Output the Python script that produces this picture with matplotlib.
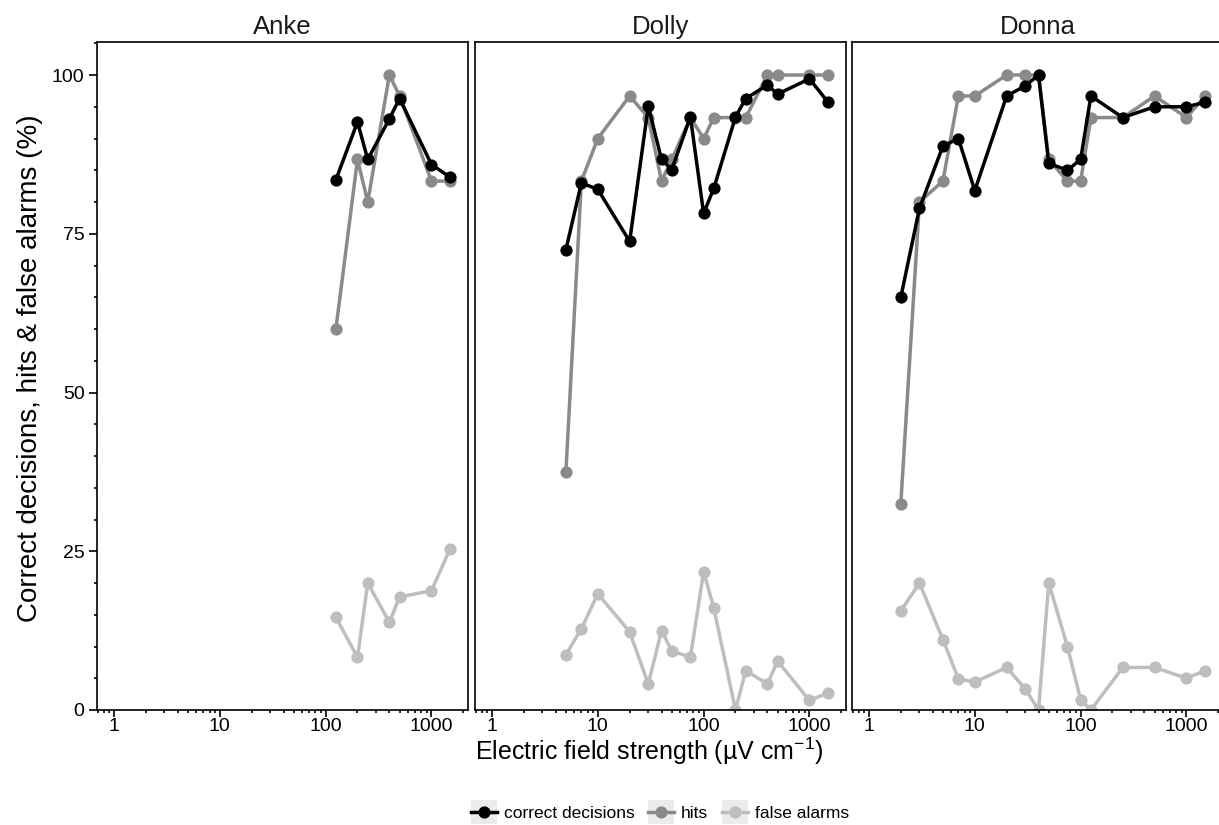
import matplotlib
matplotlib.use("Agg")
import matplotlib.pyplot as plt
from matplotlib import ticker
from matplotlib.legend_handler import HandlerLine2D
from matplotlib.patches import Rectangle
from matplotlib.lines import Line2D

plt.rcParams['font.family'] = ['Liberation Sans', 'DejaVu Sans']
plt.rcParams['mathtext.default'] = 'regular'

# ---------------- data ----------------
subjects = ["Anke", "Dolly", "Donna"]

anke_x = [125, 200, 250, 400, 500, 1000, 1500]
anke_correct = [83.5, 92.6, 86.7, 93.1, 96.3, 85.9, 83.9]
anke_hits = [60.0, 86.7, 80.0, 100.0, 96.7, 83.3, 83.3]
anke_fa = [14.6, 8.3, 20.0, 13.8, 17.8, 18.8, 25.4]

dolly_x = [5, 7, 10, 20, 30, 40, 50, 75, 100, 125, 200, 250, 400, 500, 1000, 1500]
dolly_correct = [72.5, 83.0, 82.0, 73.8, 95.1, 86.7, 85.1, 93.4, 78.2, 82.2, 93.4, 96.3, 98.4, 97.0, 99.4, 95.7]
dolly_hits = [37.5, 83.3, 90.0, 96.7, 93.3, 83.3, 86.7, 93.3, 90.0, 93.3, 93.3, 93.3, 100, 100, 100, 100]
dolly_fa = [8.7, 12.8, 18.3, 12.3, 4.1, 12.5, 9.3, 8.3, 21.8, 16.0, 0.0, 6.2, 4.1, 7.7, 1.5, 2.7]

donna_x = [2, 3, 5, 7, 10, 20, 30, 40, 50, 75, 100, 125, 250, 500, 1000, 1500]
donna_correct = [65.0, 79.0, 88.8, 90.0, 81.8, 96.7, 98.3, 100, 86.1, 85.0, 86.7, 96.7, 93.3, 95.0, 95.0, 95.7]
donna_hits = [32.5, 80.0, 83.3, 96.7, 96.7, 100, 100, 100, 86.7, 83.3, 83.3, 93.3, 93.3, 96.7, 93.3, 96.7]
donna_fa = [15.6, 20.0, 11.1, 4.9, 4.4, 6.7, 3.3, 0.0, 20.0, 10.0, 1.6, 0.0, 6.7, 6.7, 5.0, 6.2]

series_names = ["correct decisions", "hits", "false alarms"]
x_tick_values = [1, 10, 100, 1000]
x_tick_labels = ["1", "10", "100", "1000"]
y_tick_values = [0, 25, 50, 75, 100]

panels = [
    (anke_x, anke_correct, anke_hits, anke_fa),
    (dolly_x, dolly_correct, dolly_hits, dolly_fa),
    (donna_x, donna_correct, donna_hits, donna_fa),
]

# ---------------- style ----------------
colors = {"correct decisions": "#000000", "hits": "#8a8a8a", "false alarms": "#bebebe"}
LW = 2.5
MS = 8.8

W, H = 1219, 825
fig = plt.figure(figsize=(W / 100, H / 100), dpi=100)

panel_lefts = [97, 475, 852]
panel_w = 371
top_px, bot_px = 42, 710

for i, (name, (xs, cor, hit, fa)) in enumerate(zip(subjects, panels)):
    ax = fig.add_axes([panel_lefts[i] / W, 1 - bot_px / H, panel_w / W, (bot_px - top_px) / H])
    ax.set_xscale('log')
    for label, vals in (("false alarms", fa), ("hits", hit), ("correct decisions", cor)):
        ax.plot(xs, vals, color=colors[label], lw=LW, marker='o', ms=MS,
                markeredgewidth=0, solid_joinstyle='round')
    ax.set_xlim(10 ** -0.16, 10 ** 3.345)
    ax.set_ylim(0, 105.2)
    ax.xaxis.set_major_locator(ticker.FixedLocator(x_tick_values))
    ax.xaxis.set_major_formatter(ticker.FixedFormatter(x_tick_labels))
    ax.xaxis.set_minor_locator(ticker.LogLocator(base=10, subs=range(2, 10), numticks=20))
    ax.xaxis.set_minor_formatter(ticker.NullFormatter())
    ax.yaxis.set_major_locator(ticker.FixedLocator(y_tick_values))
    ax.yaxis.set_minor_locator(ticker.MultipleLocator(5))
    if i > 0:
        ax.tick_params(axis='y', which='both', left=False, labelleft=False)
    for sp in ax.spines.values():
        sp.set_linewidth(1.2)
        sp.set_color('black')
    ax.tick_params(which='major', width=1.2, labelsize=14, color='black', labelcolor='black')
    ax.tick_params(which='minor', length=2.5, width=1.2, color='black')
    ax.tick_params(axis='x', which='major', length=5, pad=0.5)
    ax.tick_params(axis='y', which='major', length=6, pad=3)
    ax.set_title(name, fontsize=18.5, pad=6, color='#1a1a1a')

fig.text(649 / W, 1 - 751 / H, "Electric field strength (µV cm$^{-1}$)",
         ha='center', va='center', fontsize=18)
fig.text(30 / W, 1 - 368 / H, "Correct decisions, hits & false alarms (%)",
         ha='center', va='center', rotation=90, fontsize=20)


class KeyHandler(HandlerLine2D):
    def create_artists(self, legend, orig_handle, xdescent, ydescent, width, height, fontsize, trans):
        rect = Rectangle((-xdescent, -ydescent - 3), width, height + 6, facecolor='#ebebeb',
                         edgecolor='none', transform=trans)
        arts = super().create_artists(legend, orig_handle, xdescent, ydescent, width, height, fontsize, trans)
        return [rect] + list(arts)


handles = [Line2D([], [], color=colors[n], lw=LW, marker='o', ms=MS, markeredgewidth=0) for n in series_names]
leg = fig.legend(handles, series_names, loc='center', bbox_to_anchor=(660 / W, 1 - 813 / H),
                 ncol=3, frameon=False, fontsize=12.5, handlelength=1.5, handleheight=1.0,
                 handletextpad=0.4, columnspacing=0.8, borderpad=0,
                 handler_map={Line2D: KeyHandler(numpoints=1)})

fig.savefig("out.png", dpi=100)
